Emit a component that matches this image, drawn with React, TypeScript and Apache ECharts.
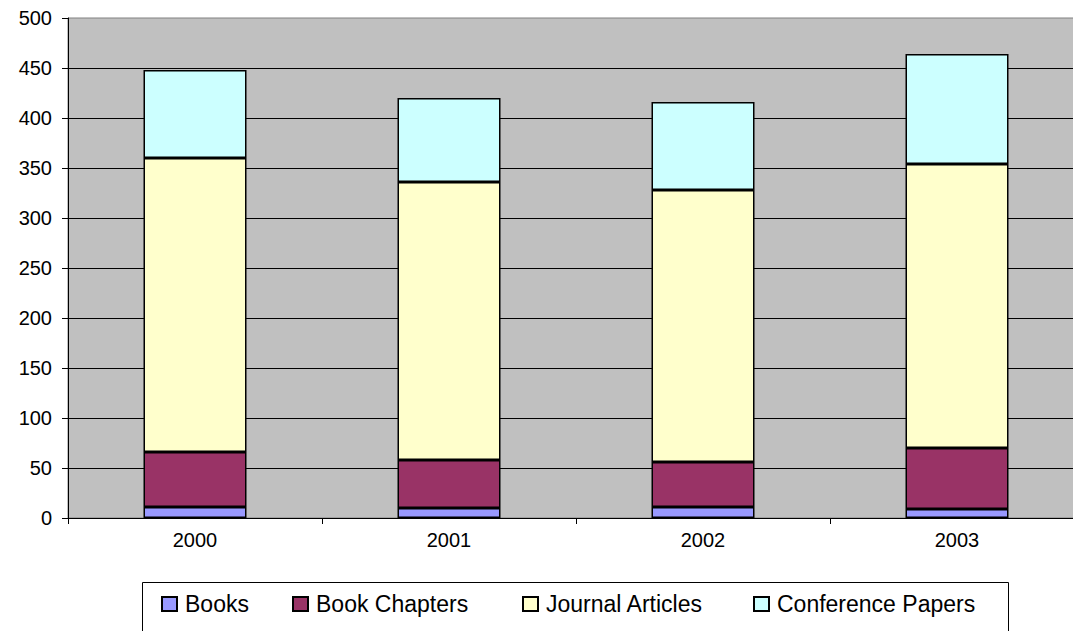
import React, { useEffect, useRef } from "react";
import * as echarts from "echarts";

const years = ["2000", "2001", "2002", "2003"];
const books = [11, 10, 11, 9];
const bookChapters = [55, 48, 45, 61];
const journalArticles = [294, 278, 272, 284];
const conferencePapers = [88, 84, 88, 110];

const seriesNames = ["Books", "Book Chapters", "Journal Articles", "Conference Papers"];
const seriesColors = ["#9999FF", "#993366", "#FFFFCC", "#CCFFFF"];
const seriesData = [books, bookChapters, journalArticles, conferencePapers];
const legendLefts = [161, 292, 522, 753];

const FONT = "'Liberation Sans', Arial, sans-serif";

export default function App() {
  const ref = useRef<HTMLDivElement>(null);
  useEffect(() => {
    if (!ref.current) return;
    document.body.style.overflow = "hidden";
    const chart = echarts.init(ref.current, undefined, { renderer: "svg" });
    chart.setOption({
      animation: false,
      backgroundColor: "#FFFFFF",
      textStyle: { fontFamily: FONT },
      grid: {
        left: 68,
        top: 18,
        width: 1016,
        height: 500,
        show: true,
        backgroundColor: "#C0C0C0",
        borderColor: "#808080",
        borderWidth: 1,
      },
      xAxis: {
        type: "category",
        data: years,
        axisLine: { lineStyle: { color: "#000", width: 1 } },
        axisTick: { show: true, length: 6, lineStyle: { color: "#000" } },
        axisLabel: { color: "#000", fontSize: 20, fontFamily: FONT, margin: 12 },
      },
      yAxis: {
        type: "value",
        min: 0,
        max: 500,
        interval: 50,
        axisLine: { show: true, lineStyle: { color: "#000", width: 1 } },
        axisTick: { show: true, length: 6, lineStyle: { color: "#000" } },
        axisLabel: { color: "#000", fontSize: 20, fontFamily: FONT, margin: 16 },
        splitLine: { show: true, showMaxLine: false, lineStyle: { color: "#000", width: 1 } },
      },
      graphic: [
        {
          type: "rect",
          shape: { x: 142.5, y: 582.5, width: 866, height: 80 },
          style: { fill: "#FFFFFF", stroke: "#000", lineWidth: 1 },
          z: -1,
        },
      ],
      legend: seriesNames.map((name, i) => ({
        data: [name],
        left: legendLefts[i],
        top: 590,
        padding: 0,
        itemWidth: 15,
        itemHeight: 14,
        itemGap: 8,
        icon: "rect",
        textStyle: { fontSize: 23, color: "#000", fontFamily: FONT, lineHeight: 28, padding: [0, 0, 0, 3] },
      })),
      series: seriesNames.map((name, i) => ({
        name,
        type: "bar",
        stack: "total",
        barWidth: 103,
        data: seriesData[i],
        itemStyle: { color: seriesColors[i], borderColor: "#000", borderWidth: 1.5 },
      })),
    });
    return () => chart.dispose();
  }, []);
  return (
    <div
      ref={ref}
      style={{ position: "fixed", left: 0, top: 0, width: 1100, height: 631 }}
    />
  );
}
